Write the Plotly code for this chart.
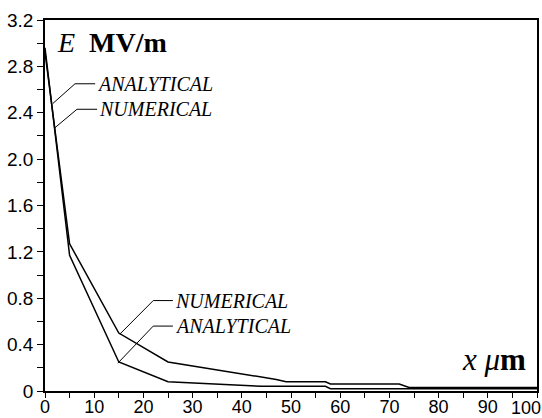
import plotly.graph_objects as go

# Data
num_x = [0, 5, 15, 25, 47, 49, 57, 58, 72, 74, 100]
num_y = [2.92, 1.27, 0.50, 0.25, 0.10, 0.08, 0.08, 0.06, 0.06, 0.03, 0.03]
ana_x = [0, 5, 15, 25, 44, 57, 58, 74, 100]
ana_y = [2.96, 1.17, 0.25, 0.08, 0.04, 0.04, 0.02, 0.02, 0.02]

x_ticks = [0, 10, 20, 30, 40, 50, 60, 70, 80, 90, 100]
x_ticklabels = ["0", "10", "20", "30", "40", "50", "60", "70", "80", "90", ""]
y_ticks = [0, 0.4, 0.8, 1.2, 1.6, 2.0, 2.4, 2.8, 3.2]
y_ticklabels = ["0", "0.4", "0.8", "1.2", "1.6", "2.0", "2.4", "2.8", "3.2"]

# Leader labels: (text, curve point x, curve point y, elbow x, elbow y, end x)
leaders = [
    ("ANALYTICAL", 1.6, 2.48, 6.1, 2.65, 10.2),
    ("NUMERICAL", 2.0, 2.27, 6.5, 2.43, 10.6),
    ("NUMERICAL", 15.2, 0.49, 22.0, 0.78, 26.0),
    ("ANALYTICAL", 14.8, 0.24, 22.0, 0.56, 26.0),
]

fig = go.Figure()
fig.add_trace(go.Scatter(x=num_x, y=num_y, mode="lines", name="NUMERICAL",
                         line=dict(color="black", width=1.5)))
fig.add_trace(go.Scatter(x=ana_x, y=ana_y, mode="lines", name="ANALYTICAL",
                         line=dict(color="black", width=1.5)))

serif = "Liberation Serif"
tickfam = "Liberation Sans Narrow, Liberation Sans, sans-serif"
for text, px, py, ex, ey, endx in leaders:
    fig.add_shape(type="path", path=f"M {px},{py} L {ex},{ey} L {endx},{ey}",
                  line=dict(color="black", width=1), xref="x", yref="y")
    fig.add_annotation(x=endx, y=ey, text=f"<i>{text}</i>", showarrow=False,
                       xanchor="left", yanchor="middle",
                       font=dict(family=serif, size=20, color="black"))

fig.add_annotation(x=2, y=3.01, text="<i>E</i>  <b>MV/m</b>", showarrow=False,
                   xanchor="left", yanchor="middle",
                   font=dict(family=serif, size=28, color="black"))
fig.add_annotation(x=98.2, y=0.27, text="<i>x</i> <i>μ</i><b>m</b>", showarrow=False,
                   xanchor="right", yanchor="middle",
                   font=dict(family=serif, size=31, color="black"))
# last x tick label, shifted to fit inside the page
fig.add_annotation(x=100, y=0, yref="y", text="100", showarrow=False,
                   xanchor="right", yanchor="top", xshift=6, yshift=-5,
                   font=dict(family=tickfam, size=18, color="black"))

fig.update_layout(
    width=542, height=418,
    margin=dict(l=45, r=5, t=20, b=27),
    paper_bgcolor="white", plot_bgcolor="white",
    showlegend=False,
    font=dict(family=tickfam, size=19, color="black"),
)
fig.update_xaxes(range=[0, 100], tickvals=x_ticks, ticktext=x_ticklabels,
                 ticks="outside", ticklen=5, automargin=False, ticklabelstandoff=-6,
                 tickcolor="black", showgrid=False, zeroline=False,
                 showline=True, linecolor="black", linewidth=1.5, mirror=True,
                 minor=dict(dtick=5, ticks="outside", ticklen=5, tickcolor="black", showgrid=False),
                 tickfont=dict(family=tickfam, size=18))
fig.update_yaxes(range=[0, 3.2], tickvals=y_ticks, ticktext=y_ticklabels,
                 ticks="outside", ticklen=6, automargin=False,
                 tickcolor="black", showgrid=False,
                 zeroline=False, showline=True, linecolor="black", linewidth=1.5,
                 mirror=True,
                 minor=dict(dtick=0.2, tick0=0, ticks="outside", ticklen=6, tickcolor="black", showgrid=False),
                 tickfont=dict(family=tickfam, size=19))

fig.write_html("out.html", config={"displayModeBar": False},
               post_script="document.body.style.margin='0';document.body.style.overflow='hidden';")
